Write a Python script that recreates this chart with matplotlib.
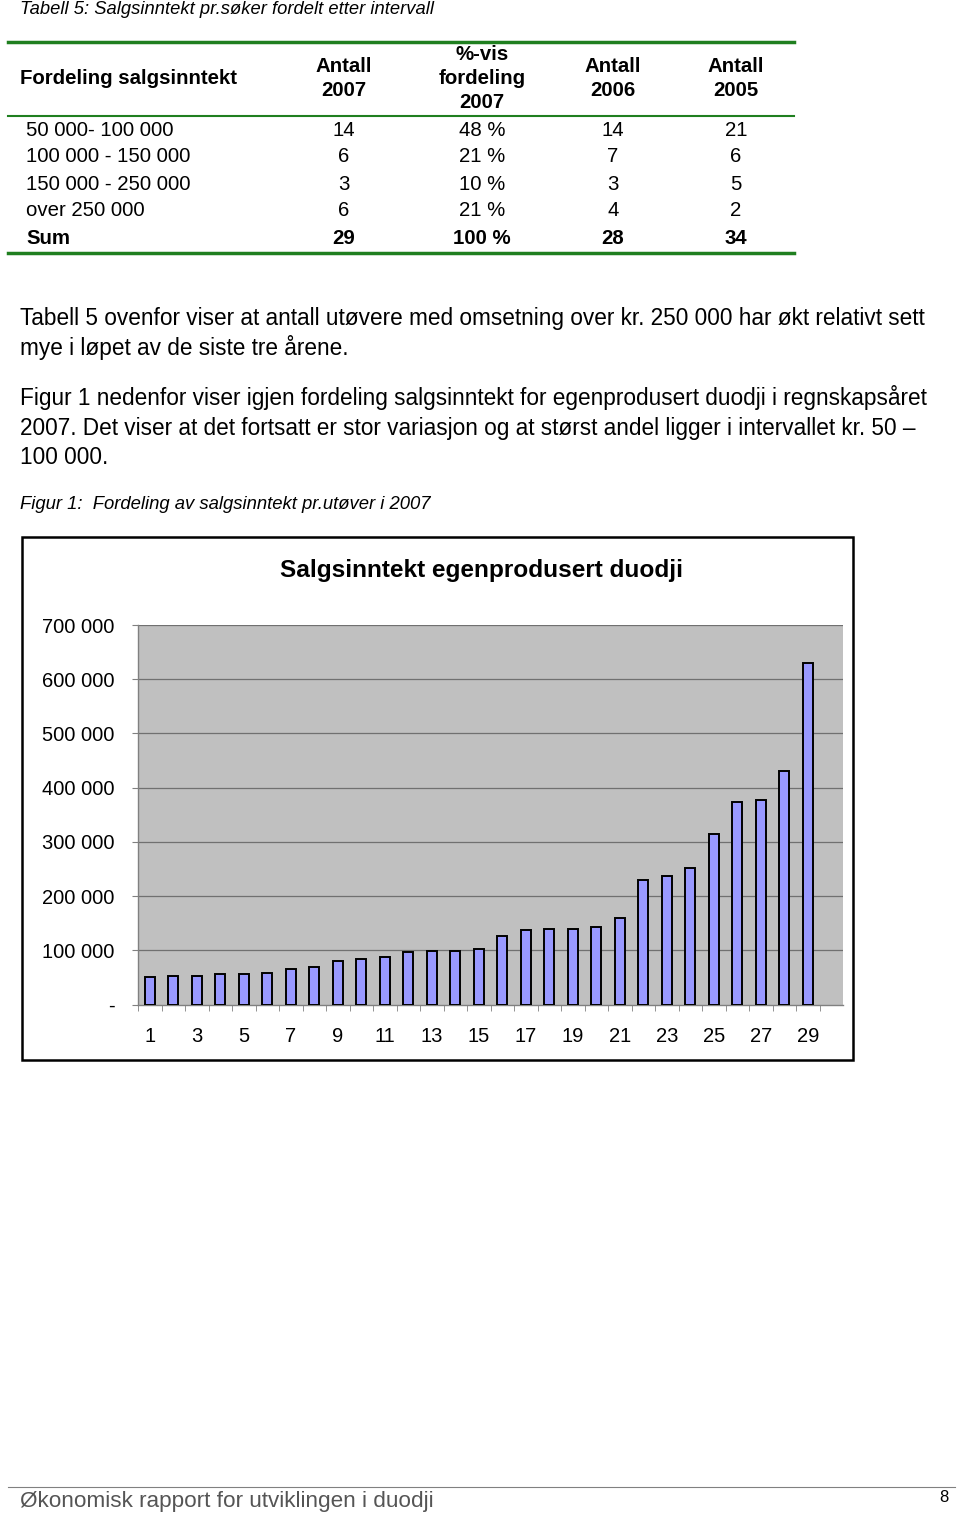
import matplotlib.pyplot as plt
from matplotlib.lines import Line2D
from matplotlib.patches import Rectangle

plt.rcParams['font.family'] = ['Liberation Sans', 'DejaVu Sans']

# table 5 data
income_classes = ["50 000- 100 000", "100 000 - 150 000", "150 000 - 250 000", "over 250 000", "Sum"]
antall_2007 = [14, 6, 3, 6, 29]
pct_2007 = ["48 %", "21 %", "10 %", "21 %", "100 %"]
antall_2006 = [14, 7, 3, 4, 28]
antall_2005 = [21, 6, 5, 2, 34]

# figure 1 data (sales income per practitioner, sorted)
salgsinntekt = [50000, 51700, 52300, 55400, 56000, 58000, 65800, 69500, 80600, 84300,
                88000, 96600, 97800, 99000, 102000, 126000, 137000, 139000, 139000, 143000,
                160000, 229000, 237000, 252000, 315000, 373000, 377000, 430000, 630000]
y_ticks = [0, 100000, 200000, 300000, 400000, 500000, 600000, 700000]
y_labels = ["-", "100 000", "200 000", "300 000", "400 000", "500 000", "600 000", "700 000"]

W, H = 960, 1514
fig = plt.figure(figsize=(W / 100, H / 100), dpi=100)


def fx(x):
    return x / W


def fy(y):
    return 1 - y / H


def txt(x, y, s, **kw):
    kw.setdefault('va', 'center')
    kw.setdefault('fontsize', 14.7)
    fig.text(fx(x), fy(y), s, **kw)


green = '#1f7f1f'

# caption
txt(20, 9, "Tabell 5: Salgsinntekt pr.søker fordelt etter intervall", style='italic', fontsize=13.2)

# table
fig.add_artist(Line2D([fx(8), fx(794)], [fy(42), fy(42)], lw=2.5, color=green))
fig.add_artist(Line2D([fx(8), fx(794)], [fy(116), fy(116)], lw=1.5, color=green))
fig.add_artist(Line2D([fx(8), fx(794)], [fy(253), fy(253)], lw=2.5, color=green))

txt(20, 79, "Fordeling salgsinntekt", weight='bold')
txt(344, 67, "Antall", weight='bold', ha='center')
txt(344, 91, "2007", weight='bold', ha='center')
txt(482, 55, "%-vis", weight='bold', ha='center')
txt(482, 79, "fordeling", weight='bold', ha='center')
txt(482, 102, "2007", weight='bold', ha='center')
txt(613, 67, "Antall", weight='bold', ha='center')
txt(613, 91, "2006", weight='bold', ha='center')
txt(736, 67, "Antall", weight='bold', ha='center')
txt(736, 91, "2005", weight='bold', ha='center')

row_y = [130, 157, 184, 211, 238]
for i, y in enumerate(row_y):
    w = 'bold' if i == len(row_y) - 1 else 'normal'
    txt(26, y, income_classes[i], weight=w)
    txt(344, y, str(antall_2007[i]), weight=w, ha='center')
    txt(482, y, pct_2007[i], weight=w, ha='center')
    txt(613, y, str(antall_2006[i]), weight=w, ha='center')
    txt(736, y, str(antall_2005[i]), weight=w, ha='center')

# body text
body = 16.3
txt(20, 318, "Tabell 5 ovenfor viser at antall utøvere med omsetning over kr. 250 000 har økt relativt sett", fontsize=body)
txt(20, 348, "mye i løpet av de siste tre årene.", fontsize=body)
txt(20, 398, "Figur 1 nedenfor viser igjen fordeling salgsinntekt for egenprodusert duodji i regnskapsåret", fontsize=body)
txt(20, 428, "2007. Det viser at det fortsatt er stor variasjon og at størst andel ligger i intervallet kr. 50 –", fontsize=body)
txt(20, 458, "100 000.", fontsize=body)
txt(20, 505, "Figur 1:  Fordeling av salgsinntekt pr.utøver i 2007", style='italic', fontsize=13.3)

# chart frame
fig.add_artist(Rectangle((fx(22), fy(1060)), fx(853) - fx(22), fy(537) - fy(1060),
                         transform=fig.transFigure, facecolor='white', edgecolor='black', lw=1.8, zorder=0))
txt(482, 571, "Salgsinntekt egenprodusert duodji", weight='bold', ha='center', fontsize=17.6)

ax = fig.add_axes([fx(138), fy(1004.5), fx(843) - fx(138), fy(625) - fy(1004.5)])
ax.set_facecolor('#c0c0c0')
x = list(range(1, len(salgsinntekt) + 1))
ax.bar(x, salgsinntekt, width=0.42, color='#9999ff', edgecolor='black', lw=1.4, zorder=3)
ax.set_xlim(0.5, 30.5)
ax.set_ylim(0, 700000)
for v in y_ticks[1:]:
    ax.axhline(v, color='#707070', lw=0.9, zorder=1)
ax.set_yticks(y_ticks)
ax.set_yticklabels(y_labels, fontsize=14.5)
ax.set_xticks(x[::2])
ax.set_xticklabels([str(i) for i in x[::2]], fontsize=14.5)
ax.set_xticks([i + 0.5 for i in range(0, 30)], minor=True)
ax.tick_params(axis='x', which='major', length=0, pad=16.5)
ax.tick_params(axis='x', which='minor', length=4, color='#808080', direction='out')
ax.tick_params(axis='y', length=4, color='#808080', pad=13)
for s in ['top', 'right']:
    ax.spines[s].set_visible(False)
for s in ['left', 'bottom']:
    ax.spines[s].set_color('#808080')
    ax.spines[s].set_linewidth(1)

# footer
fig.add_artist(Line2D([fx(8), fx(955)], [fy(1487), fy(1487)], lw=0.8, color='#808080'))
txt(20, 1501, "Økonomisk rapport for utviklingen i duodji", color='#555555', fontsize=16.2)
txt(948, 1498, "8", ha='right', fontsize=12)

fig.savefig('out.png', dpi=100)
